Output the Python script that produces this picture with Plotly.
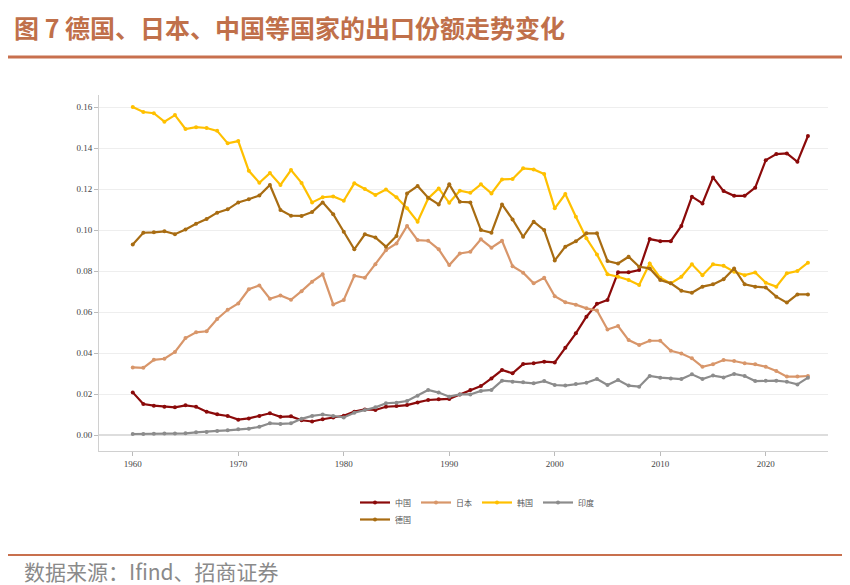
import plotly.graph_objects as go

years = list(range(1960, 2025))

china = [0.0208, 0.0151, 0.0143, 0.0138, 0.0135, 0.0145, 0.0138, 0.0114, 0.0101, 0.0093,
         0.0075, 0.0081, 0.0093, 0.0106, 0.0089, 0.0091, 0.0072, 0.0066, 0.0077, 0.0086,
         0.0094, 0.0114, 0.0125, 0.0122, 0.0138, 0.0141, 0.0146, 0.0159, 0.0171, 0.0174,
         0.0176, 0.0198, 0.0220, 0.0239, 0.0276, 0.0317, 0.0301, 0.0346, 0.0350, 0.0358,
         0.0354, 0.0426, 0.0496, 0.0577, 0.0640, 0.0659, 0.0794, 0.0794, 0.0805, 0.0956,
         0.0946, 0.0946, 0.1020, 0.1163, 0.1130, 0.1257, 0.1190, 0.1167, 0.1167, 0.1207,
         0.1341, 0.1371, 0.1374, 0.1333, 0.1459]

japan = [0.0330, 0.0328, 0.0367, 0.0372, 0.0405, 0.0473, 0.0501, 0.0506, 0.0566, 0.0611,
         0.0642, 0.0711, 0.0730, 0.0665, 0.0681, 0.0660, 0.0702, 0.0748, 0.0784, 0.0637,
         0.0659, 0.0777, 0.0767, 0.0833, 0.0902, 0.0935, 0.1020, 0.0951, 0.0948, 0.0906,
         0.0829, 0.0886, 0.0894, 0.0955, 0.0914, 0.0948, 0.0824, 0.0792, 0.0740, 0.0767,
         0.0677, 0.0648, 0.0636, 0.0618, 0.0608, 0.0515, 0.0532, 0.0463, 0.0439, 0.0460,
         0.0460, 0.0411, 0.0398, 0.0374, 0.0333, 0.0345, 0.0366, 0.0361, 0.0350, 0.0345,
         0.0333, 0.0312, 0.0285, 0.0285, 0.0288]

korea = [0.1600, 0.1576, 0.1570, 0.1529, 0.1561, 0.1493, 0.1502, 0.1498, 0.1484, 0.1423,
         0.1434, 0.1289, 0.1231, 0.1278, 0.1220, 0.1293, 0.1230, 0.1135, 0.1160, 0.1164,
         0.1143, 0.1228, 0.1200, 0.1171, 0.1198, 0.1160, 0.1106, 0.1041, 0.1154, 0.1203,
         0.1133, 0.1192, 0.1182, 0.1223, 0.1179, 0.1247, 0.1249, 0.1301, 0.1296, 0.1273,
         0.1106, 0.1176, 0.1065, 0.0960, 0.0881, 0.0784, 0.0772, 0.0756, 0.0732, 0.0837,
         0.0767, 0.0740, 0.0772, 0.0833, 0.0780, 0.0833, 0.0826, 0.0797, 0.0780, 0.0793,
         0.0743, 0.0724, 0.0789, 0.0800, 0.0841]

india = [0.0005, 0.0005, 0.0006, 0.0007, 0.0007, 0.0008, 0.0013, 0.0015, 0.0020, 0.0023,
         0.0028, 0.0031, 0.0040, 0.0057, 0.0054, 0.0057, 0.0079, 0.0093, 0.0100, 0.0093,
         0.0086, 0.0109, 0.0122, 0.0135, 0.0155, 0.0158, 0.0166, 0.0192, 0.0220, 0.0207,
         0.0187, 0.0198, 0.0198, 0.0215, 0.0220, 0.0265, 0.0260, 0.0257, 0.0252, 0.0263,
         0.0244, 0.0241, 0.0249, 0.0255, 0.0273, 0.0244, 0.0268, 0.0241, 0.0236, 0.0288,
         0.0280, 0.0276, 0.0273, 0.0296, 0.0273, 0.0290, 0.0281, 0.0298, 0.0288, 0.0263,
         0.0265, 0.0265, 0.0260, 0.0247, 0.0280]

germany = [0.0930, 0.0987, 0.0989, 0.0994, 0.0980, 0.1003, 0.1031, 0.1054, 0.1085, 0.1101,
           0.1135, 0.1150, 0.1169, 0.1220, 0.1098, 0.1070, 0.1069, 0.1088, 0.1135, 0.1077,
           0.0992, 0.0906, 0.0979, 0.0964, 0.0919, 0.0971, 0.1179, 0.1215, 0.1158, 0.1125,
           0.1223, 0.1138, 0.1135, 0.1000, 0.0987, 0.1125, 0.1052, 0.0967, 0.1041, 0.1000,
           0.0852, 0.0919, 0.0945, 0.0984, 0.0984, 0.0849, 0.0837, 0.0870, 0.0821, 0.0813,
           0.0756, 0.0740, 0.0704, 0.0694, 0.0724, 0.0735, 0.0760, 0.0813, 0.0735, 0.0724,
           0.0720, 0.0675, 0.0646, 0.0686, 0.0686]

series_names = ["中国", "日本", "韩国", "印度", "德国"]
series_values = [china, japan, korea, india, germany]
series_colors = ["#8B0A0A", "#D8966A", "#FFC000", "#8C8C8C", "#A86C12"]
series_legend = ["legend", "legend", "legend", "legend", "legend2"]

x_ticks = [1960, 1970, 1980, 1990, 2000, 2010, 2020]
y_ticks = [0.00, 0.02, 0.04, 0.06, 0.08, 0.10, 0.12, 0.14, 0.16]

title_text = "图 7 德国、日本、中国等国家的出口份额走势变化"
source_text = "数据来源：Ifind、招商证券"

W, H = 850, 585
L, R, T, B = 99, 22, 95, 134
PW, PH = W - L - R, H - T - B


def px(xp):
    return (xp - L) / PW


def py(yp):
    return (H - B - yp) / PH


fig = go.Figure()
for name, vals, col, lg in zip(series_names, series_values, series_colors, series_legend):
    fig.add_trace(go.Scatter(
        x=years, y=vals, name=name, mode="lines+markers",
        line=dict(color=col, width=2.2),
        marker=dict(color=col, size=4),
        legend=lg,
    ))

serif = "Liberation Serif, Times New Roman, serif"
cjk = "Noto Sans CJK SC, sans-serif"

fig.update_layout(
    width=W, height=H,
    margin=dict(l=L, r=R, t=T, b=B),
    paper_bgcolor="white", plot_bgcolor="white",
    showlegend=True,
    font=dict(family=serif, color="#444444", size=9),
    legend=dict(orientation="h", x=px(355), y=py(488), xanchor="left", yanchor="top",
                font=dict(family=cjk, size=8, color="#555555"),
                itemwidth=30, tracegroupgap=0, bgcolor="rgba(0,0,0,0)"),
    legend2=dict(orientation="h", x=px(355), y=py(505), xanchor="left", yanchor="top",
                 font=dict(family=cjk, size=8, color="#555555"),
                 itemwidth=30, bgcolor="rgba(0,0,0,0)"),
    xaxis=dict(range=[1956.8, 2025.9], tickvals=x_ticks, ticks="outside", ticklen=4,
               tickcolor="#BBBBBB", showgrid=False, showline=True, linecolor="#D0D0D0",
               linewidth=1, zeroline=False, tickfont=dict(family=serif, size=9, color="#444444")),
    yaxis=dict(range=[-0.0078, 0.1659], tickvals=y_ticks, tickformat=".2f", ticks="outside",
               ticklen=4, tickcolor="#BBBBBB", showgrid=True, gridcolor="#EEEEEE", gridwidth=1,
               showline=True, linecolor="#D0D0D0", linewidth=1, zeroline=True,
               zerolinecolor="#DDDDDD", zerolinewidth=1.5,
               tickfont=dict(family=serif, size=9, color="#444444")),
    shapes=[
        dict(type="line", xref="paper", yref="paper", x0=px(8), x1=px(842), y0=py(57), y1=py(57),
             line=dict(color="#C8704E", width=3)),
        dict(type="line", xref="paper", yref="paper", x0=px(8), x1=px(842), y0=py(555), y1=py(555),
             line=dict(color="#C8704E", width=2)),
    ],
    annotations=[
        dict(text="<b>" + title_text + "</b>", xref="paper", yref="paper", x=px(12), y=py(27),
             xanchor="left", yanchor="middle", showarrow=False,
             font=dict(family=cjk, size=25, color="#C0704A")),
        dict(text=source_text, xref="paper", yref="paper", x=px(22), y=py(571),
             xanchor="left", yanchor="middle", showarrow=False,
             font=dict(family=cjk, size=21, color="#8A8A8A")),
    ],
)

fig.write_html("out.html")
